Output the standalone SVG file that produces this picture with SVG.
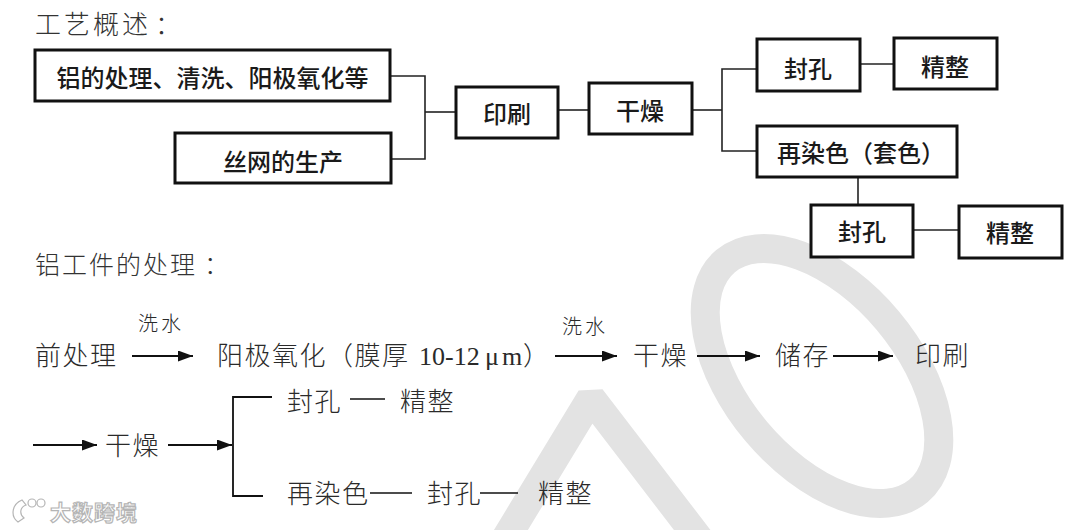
<svg xmlns="http://www.w3.org/2000/svg" width="1080" height="530" viewBox="0 0 1080 530">
<style>
  .box { fill: #fff; stroke: #111; stroke-width: 3; }
  .bt { font-family: "Noto Sans CJK SC", "Noto Sans", sans-serif; font-size: 24px; font-weight: 500; fill: #1a1a1a; text-anchor: middle; }
  .conn { fill: none; stroke: #222; stroke-width: 1.6; }
  .arr { fill: none; stroke: #111; stroke-width: 1.8; marker-end: url(#ah); }
  .ht { font-family: "Noto Sans CJK SC", sans-serif; font-weight: 300; fill: #333; }
  .st { font-family: "Noto Sans CJK SC", sans-serif; font-weight: 300; font-size: 26px; letter-spacing: 1.5px; fill: #2a2a2a; }
  .lab { font-family: "Noto Sans CJK SC", sans-serif; font-weight: 300; font-size: 20px; letter-spacing: 3px; fill: #2a2a2a; }
  .lat { font-family: "Liberation Serif", serif; letter-spacing: 0; }
  .wm { fill: none; stroke: #e3e3e3; stroke-width: 29; }
</style>
<defs>
  <marker id="ah" markerUnits="userSpaceOnUse" markerWidth="16" markerHeight="12" refX="15" refY="5.5" orient="auto">
    <path d="M0,0 L15,5.5 L0,11 z" fill="#111"/>
  </marker>
</defs>
<rect width="1080" height="530" fill="#fff"/>

<!-- watermark -->
<g id="watermark">
  <ellipse class="wm" cx="822" cy="376" rx="150" ry="86" transform="rotate(50 822 376)"/>
  <polyline class="wm" points="500,548 591,398 706,548" stroke-linejoin="bevel"/>
  <g fill="#fff" stroke="#b5b5b5" stroke-width="1.2">
    <path d="M22,500 C12,504 10,516 18,522 L24,518 C19,514 20,507 26,505 Z"/>
    <circle cx="32" cy="503" r="4"/>
    <circle cx="41" cy="503" r="4"/>
    <text x="50" y="520" font-family="Noto Sans CJK SC, sans-serif" font-size="21" font-weight="bold" letter-spacing="1">大数跨境</text>
  </g>
</g>

<!-- section 1 -->
<text class="ht" x="35" y="34" font-size="26" letter-spacing="3">工艺概述<tspan x="155">：</tspan></text>

<g id="connectors">
  <path class="conn" d="M390,76 H425 V159 H391"/>
  <path class="conn" d="M425,112 H456"/>
  <path class="conn" d="M558,110 H589"/>
  <path class="conn" d="M692,110 H722"/>
  <path class="conn" d="M757,69 H722 V151 H757"/>
  <path class="conn" d="M860,64 H894"/>
  <path class="conn" d="M858,177 V205"/>
  <path class="conn" d="M913,230 H959"/>
</g>

<g id="n-alu">
  <rect class="box" x="35" y="50" width="355" height="51"/>
  <text class="bt" x="212.5" y="87">铝的处理、清洗、阳极氧化等</text>
</g>
<g id="n-screen">
  <rect class="box" x="175" y="133" width="216" height="50"/>
  <text class="bt" x="283" y="171">丝网的生产</text>
</g>
<g id="n-print">
  <rect class="box" x="456" y="87" width="102" height="51"/>
  <text class="bt" x="507" y="123">印刷</text>
</g>
<g id="n-dry">
  <rect class="box" x="589" y="83" width="103" height="51"/>
  <text class="bt" x="640" y="120">干燥</text>
</g>
<g id="n-seal1">
  <rect class="box" x="757" y="39" width="103" height="52"/>
  <text class="bt" x="808" y="78">封孔</text>
</g>
<g id="n-finish1">
  <rect class="box" x="894" y="38" width="103" height="51"/>
  <text class="bt" x="945" y="76">精整</text>
</g>
<g id="n-redye">
  <rect class="box" x="757" y="126" width="200" height="51"/>
  <text class="bt" x="777" y="162" style="text-anchor:start">再染色（套色）</text>
</g>
<g id="n-seal2">
  <rect class="box" x="811" y="205" width="102" height="52"/>
  <text class="bt" x="862" y="241">封孔</text>
</g>
<g id="n-finish2">
  <rect class="box" x="959" y="206" width="103" height="52"/>
  <text class="bt" x="1010" y="242">精整</text>
</g>

<!-- section 2 -->
<text class="ht" x="35" y="274" font-size="25" letter-spacing="2">铝工件的处理<tspan x="204">：</tspan></text>

<g id="flow-arrows">
  <line class="arr" x1="132" y1="356" x2="193" y2="356"/>
  <line class="arr" x1="555" y1="356" x2="617" y2="356"/>
  <line class="arr" x1="697" y1="356" x2="760" y2="356"/>
  <line class="arr" x1="833" y1="356" x2="893" y2="356"/>
  <line class="arr" x1="33" y1="445" x2="97" y2="445"/>
  <line class="arr" x1="168" y1="445" x2="232" y2="445"/>
  <path class="conn" d="M272,397 H233 V496 H263" style="stroke:#111;stroke-width:1.8"/>
  <path class="conn" d="M350,399 H385" style="stroke:#111"/>
  <path class="conn" d="M370,493 H412" style="stroke:#111"/>
  <path class="conn" d="M480,493 H518" style="stroke:#111"/>
</g>

<g id="flow-text">
  <text class="lab" x="138" y="331">洗水</text>
  <text class="lab" x="562" y="334">洗水</text>
  <text class="st" x="35" y="365">前处理</text>
  <text class="st" x="217" y="365">阳极氧化（膜厚<tspan class="lat" x="419">10-12</tspan><tspan class="lat" x="485">μ</tspan><tspan class="lat" x="502">m</tspan><tspan x="523">）</tspan></text>
  <text class="st" x="633" y="365">干燥</text>
  <text class="st" x="775" y="365">储存</text>
  <text class="st" x="915" y="365">印刷</text>
  <text class="st" x="105" y="455">干燥</text>
  <text class="st" x="287" y="411">封孔</text>
  <text class="st" x="400" y="411">精整</text>
  <text class="st" x="287" y="503">再染色</text>
  <text class="st" x="427" y="503">封孔</text>
  <text class="st" x="538" y="503">精整</text>
</g>
</svg>
